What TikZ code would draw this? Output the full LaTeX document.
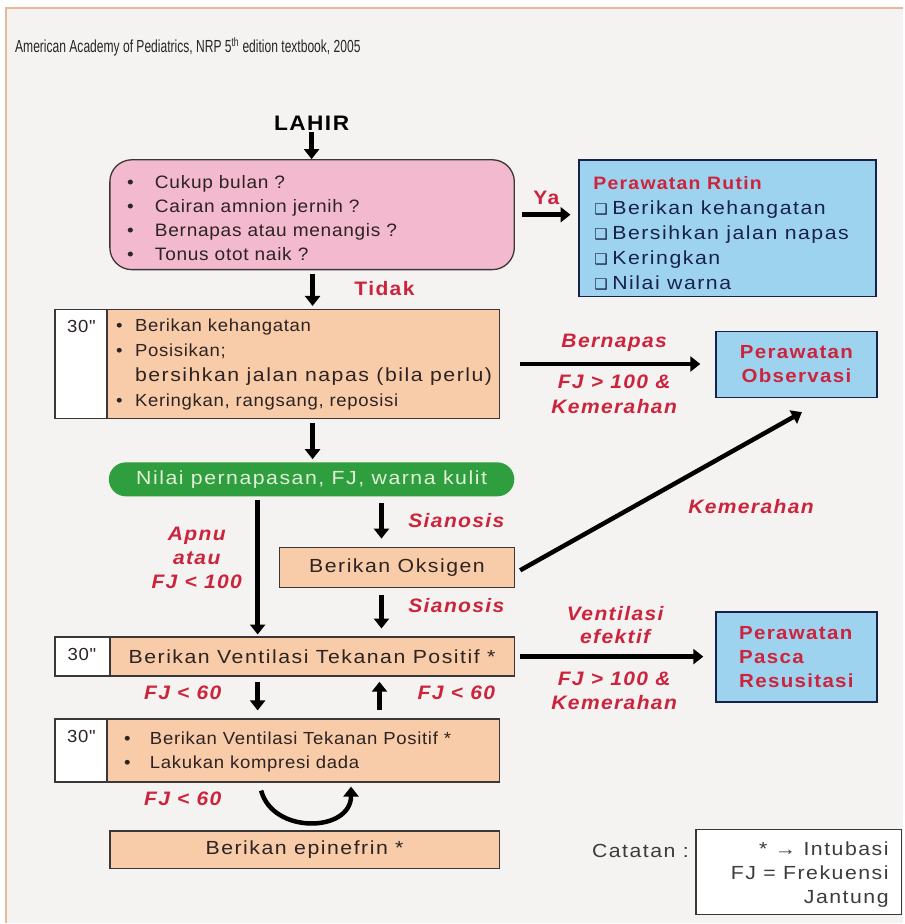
\documentclass[tikz,border=0pt]{standalone}
\usepackage{fontspec}
\usepackage{tikz}
\usepackage{xcolor}
\usetikzlibrary{positioning,arrows.meta}
\setmainfont{Liberation Sans}
\newfontfamily\headfont[FakeStretch=0.69]{Liberation Sans}
\newfontfamily\listfont[FakeStretch=1.06,LetterSpace=4]{Liberation Sans}
\newfontfamily\widefont[FakeStretch=1.12,LetterSpace=8]{Liberation Sans}
\newfontfamily\condfont[FakeStretch=1.08,LetterSpace=7]{Liberation Sans}
\newfontfamily\dingfont{DejaVu Sans}
\definecolor{pageColor}{RGB}{244, 243, 241}
\definecolor{edgeColor}{RGB}{232, 184, 152}
\definecolor{checkColor}{RGB}{242, 185, 207}
\definecolor{stepColor}{RGB}{248, 204, 168}
\definecolor{careColor}{RGB}{158, 211, 240}
\definecolor{assessColor}{RGB}{46, 158, 62}
\definecolor{assessTextColor}{RGB}{226, 242, 214}
\definecolor{condColor}{RGB}{204, 36, 60}
\definecolor{careTextColor}{RGB}{24, 34, 72}
\definecolor{boxTextColor}{RGB}{45, 35, 35}
\definecolor{borderColor}{RGB}{60, 55, 55}
\definecolor{noteTextColor}{RGB}{60, 60, 60}
\newcommand{\itembullet}[1][25pt]{\makebox[#1][l]{\textbullet}}
\newcommand{\tickbox}{\makebox[18pt][l]{\dingfont\fontsize{15}{15}\selectfont ❑}}

\begin{document}
\begin{tikzpicture}[
		x=1pt, y=-1pt,
		% Define styles for nodes
		checkbox/.style={
				draw=borderColor,
				line width=1.3pt,
				fill=checkColor,
				rounded corners=22pt,
				inner sep=0pt
			},
		stepbox/.style={
				draw=borderColor,
				line width=1.3pt,
				fill=stepColor,
				inner sep=0pt,
				font=\widefont\fontsize{19}{25}\selectfont,
				text=boxTextColor
			},
		timebox/.style={
				draw=borderColor,
				line width=1.3pt,
				fill=white,
				inner sep=0pt
			},
		carebox/.style={
				draw=careTextColor,
				line width=1.5pt,
				fill=careColor,
				inner sep=0pt,
				font=\condfont\bfseries\fontsize{19}{24}\selectfont,
				text=condColor
			},
		assess/.style={
				fill=assessColor,
				rounded corners=17pt,
				inner sep=0pt,
				font=\widefont\fontsize{19}{24}\selectfont,
				text=assessTextColor
			},
		notebox/.style={
				draw=borderColor,
				line width=1.2pt,
				fill=white,
				inner sep=0pt
			},
		listtext/.style={
				font=\listfont\fontsize{17.5}{25}\selectfont,
				text=boxTextColor,
				align=left,
				inner sep=0pt
			},
		cond/.style={
				font=\condfont\bfseries\itshape\fontsize{19.5}{25}\selectfont,
				text=condColor,
				align=center,
				inner sep=0pt
			},
		answer/.style={
				font=\condfont\bfseries\fontsize{19.5}{24}\selectfont,
				text=condColor,
				inner sep=0pt
			},
		arrow/.style={
				-{Triangle[width=15pt,length=10pt]},
				line width=4.5pt,
				draw=black,
				shorten <=4pt,
				shorten >=3pt
			}
	]

	% Page and frame
	\fill[white] (0,0) rectangle (904,924);
	\fill[pageColor] (7,9) rectangle (904,924);
	\draw[edgeColor, line width=2.5pt] (6,924) -- (6,8) -- (904,8);
	\useasboundingbox (0,0) rectangle (904,924);

	% Title
	\node[font=\headfont\fontsize{17.5}{20}\selectfont, text=black!85, anchor=west, inner sep=0pt] (source) at (15,47) {American Academy of Pediatrics, NRP 5\textsuperscript{th} edition textbook, 2005};
	\node[font=\condfont\bfseries\fontsize{21}{24}\selectfont, inner sep=0pt] (birth) at (312,123) {LAHIR};

	% Column lines
	\coordinate (mainline) at (313,0);
	\coordinate (oxline) at (382,0);
	\coordinate (apnuline) at (258,0);
	\coordinate (backline) at (380,0);

	% First check
	\node[checkbox, minimum width=405pt, minimum height=110pt] (check) at (312.5,215) {};
	\node[listtext, font=\listfont\fontsize{18}{24}\selectfont, anchor=west] (checklist) at (127,218) {
		\itembullet[28pt]Cukup bulan ?\\
		\itembullet[28pt]Cairan amnion jernih ?\\
		\itembullet[28pt]Bernapas atau menangis ?\\
		\itembullet[28pt]Tonus otot naik ?
	};

	% Routine care
	\node[carebox, minimum width=297pt, minimum height=137pt] (routine) at (728.5,228.5) {};
	\node[answer, font=\condfont\bfseries\fontsize{18}{24}\selectfont, anchor=west] (routinetitle) at (594,183) {Perawatan Rutin};
	\node[font=\widefont\fontsize{19}{25}\selectfont, text=careTextColor, align=left, anchor=west, inner sep=0pt] (routinelist) at (595,246) {
		\tickbox Berikan kehangatan\\
		\tickbox Bersihkan jalan napas\\
		\tickbox Keringkan\\
		\tickbox Nilai warna
	};

	% Initial steps
	\node[timebox, minimum width=52pt, minimum height=109pt] (time1) at (81,364.5) {};
	\node[listtext] (time1text) at (81.5,327) {30"};
	\node[stepbox, minimum width=393pt, minimum height=109pt] (initial) at (303.5,364.5) {};
	\node[listtext, anchor=west] (initiallist) at (116,365) {
		\itembullet[19pt]Berikan kehangatan\\
		\itembullet[19pt]Posisikan;\\
		{\widefont\fontsize{19}{25}\selectfont\hspace*{19pt}bersihkan jalan napas (bila perlu)}\\
		\itembullet[19pt]Keringkan, rangsang, reposisi
	};
	\node[carebox, minimum width=161pt, minimum height=66pt, align=center] (observe) at (797.5,365) {Perawatan\\Observasi};

	% Assessment
	\node[assess, minimum width=406pt, minimum height=34pt] (assess) at (312,480) {Nilai pernapasan, FJ, warna kulit};
	\node[stepbox, minimum width=235pt, minimum height=40pt] (oxygen) at (397.5,568) {Berikan Oksigen};

	% Ventilation
	\node[timebox, minimum width=55pt, minimum height=39pt] (time2) at (82.5,657.5) {};
	\node[listtext] (time2text) at (82,655) {30"};
	\node[stepbox, minimum width=405pt, minimum height=39pt] (vent) at (312.5,657.5) {Berikan Ventilasi Tekanan Positif *};
	\node[carebox, minimum width=161pt, minimum height=90pt, align=left] (postcare) at (797.5,658) {Perawatan\\Pasca\\Resusitasi};

	% Compressions
	\node[timebox, minimum width=52pt, minimum height=63pt] (time3) at (81,751.5) {};
	\node[listtext] (time3text) at (81.5,737) {30"};
	\node[stepbox, minimum width=393pt, minimum height=63pt] (cpr) at (303.5,751.5) {};
	\node[listtext, font=\listfont\fontsize{17.5}{24}\selectfont, anchor=west] (cprlist) at (124,753) {
		\itembullet[26pt]Berikan Ventilasi Tekanan Positif *\\
		\itembullet[26pt]Lakukan kompresi dada
	};
	\node[stepbox, minimum width=390pt, minimum height=38pt] (epi) at (305,851) {Berikan epinefrin *};

	% Notes
	\node[font=\widefont\fontsize{19}{24}\selectfont, text=noteTextColor, anchor=east, inner sep=0pt] (notelabel) at (690,852) {Catatan :};
	\node[notebox, minimum width=206pt, minimum height=85pt] (notes) at (800,873.5) {};
	\node[font=\widefont\fontsize{19}{24}\selectfont, text=noteTextColor, align=right, anchor=east, inner sep=0pt] (notetext) at (890,876) {* → Intubasi\\FJ = Frekuensi\\Jantung};

	% Condition labels
	\node[answer] (yes) at (547,198) {Ya};
	\node[answer] (no) at (385,289) {Tidak};
	\node[cond] (breathing) at (615,343) {Bernapas};
	\node[cond] (pink1) at (615,395) {FJ > 100 \&\\Kemerahan};
	\node[cond] (pink2) at (752,507) {Kemerahan};
	\node[cond, font=\condfont\bfseries\itshape\fontsize{19.5}{24}\selectfont] (apnea) at (197,559) {Apnu\\atau\\FJ < 100};
	\node[cond] (cyan1) at (457,521) {Sianosis};
	\node[cond] (cyan2) at (457,606) {Sianosis};
	\node[cond, font=\condfont\bfseries\itshape\fontsize{19.5}{23}\selectfont] (effective) at (616,625.5) {Ventilasi\\efektif};
	\node[cond, font=\condfont\bfseries\itshape\fontsize{19.5}{24}\selectfont] (pink3) at (615,692) {FJ > 100 \&\\Kemerahan};
	\node[cond] (slow1) at (183,694) {FJ < 60};
	\node[cond] (slow2) at (457,694) {FJ < 60};
	\node[cond] (slow3) at (183,800) {FJ < 60};

	% ARROWS
	\draw[arrow, shorten <=2pt, shorten >=0pt] (birth.south) -- (birth.south |- check.north);
	\draw[arrow] (mainline |- check.south) -- (mainline |- initial.north);
	\draw[arrow] (mainline |- initial.south) -- (mainline |- assess.north);
	\draw[arrow, shorten <=6pt, shorten >=8pt] (oxline |- assess.south) -- (oxline |- oxygen.north);
	\draw[arrow, shorten <=3pt, shorten >=2pt] (apnuline |- assess.south) -- (apnuline |- vent.north);
	\draw[arrow, shorten <=7pt, shorten >=8pt] (oxline |- oxygen.south) -- (oxline |- vent.north);
	\draw[arrow, shorten <=5pt, shorten >=8pt] (apnuline |- vent.south) -- (apnuline |- cpr.north);
	\draw[arrow, shorten <=8pt, shorten >=5pt] (backline |- cpr.north) -- (backline |- vent.south);

	% Right side
	\draw[arrow, shorten <=7pt, shorten >=8pt] (check.east) -- (check.east -| routine.west);
	\draw[arrow, shorten <=20pt, shorten >=15pt] (initial.east) -- (initial.east -| observe.west);
	\draw[arrow, shorten <=5pt, shorten >=12pt] (vent.east) -- (vent.east -| postcare.west);
	\draw[arrow, shorten <=6pt, shorten >=0pt] ([yshift=-6pt]oxygen.east) -- ([xshift=5.5pt,yshift=-14pt]observe.south);

	% Loop back
	\draw[arrow, shorten <=0pt, shorten >=0pt] ([xshift=-42pt,yshift=-8pt]cpr.south) to[out=-75, in=-90, looseness=1.3] ([xshift=48pt,yshift=-4pt]cpr.south);

\end{tikzpicture}
\end{document}
